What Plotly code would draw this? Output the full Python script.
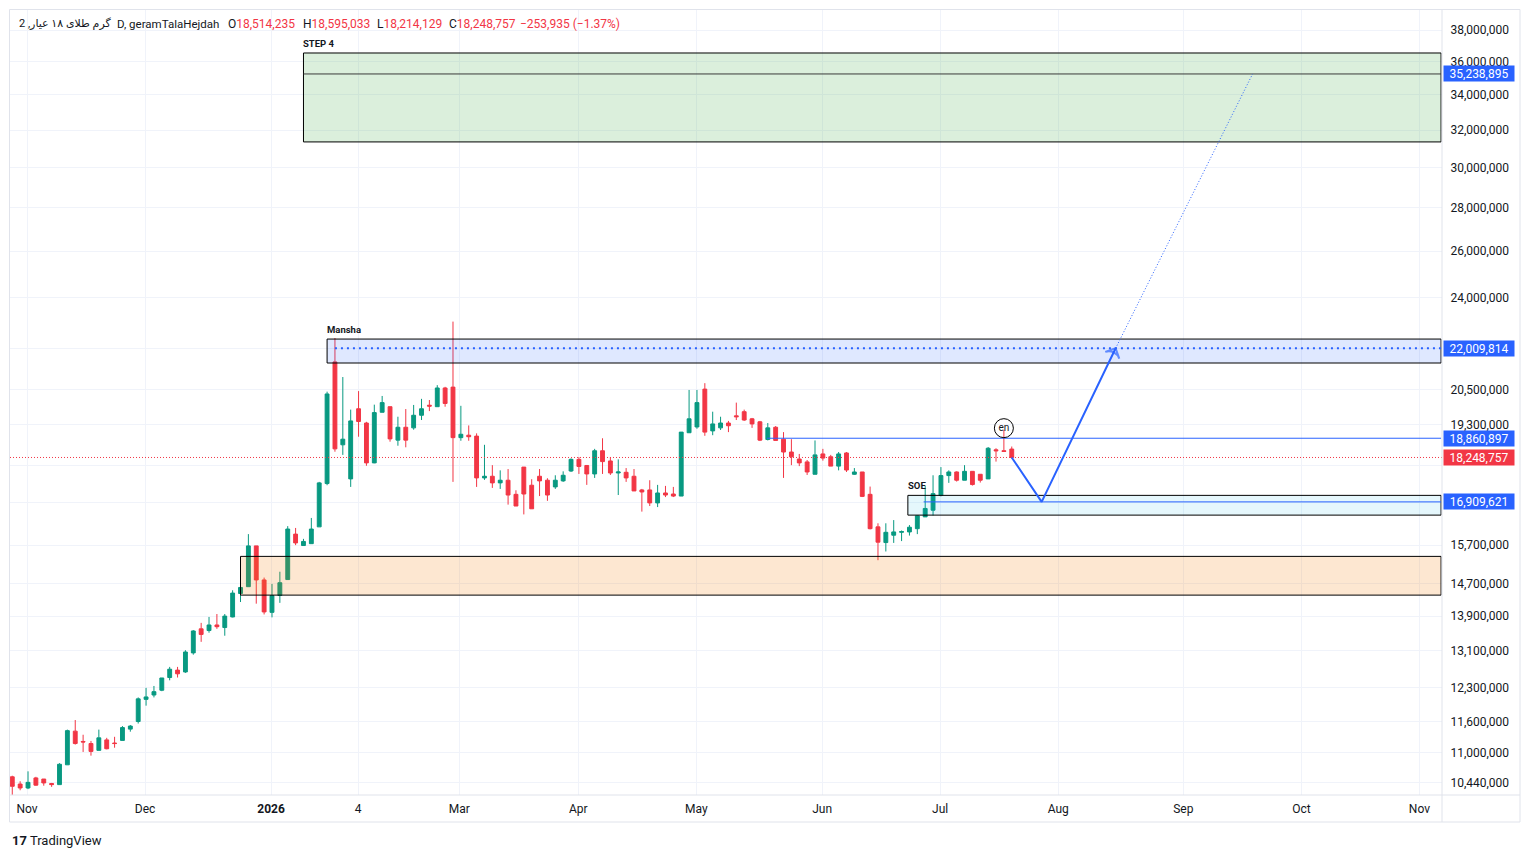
import numpy as np
import plotly.graph_objects as go

# ---------------- data (prices in millions of rial, 2D bars) ----------------
bar_index = list(range(128))
open_m = [10.55, 10.42, 10.35, 10.53, 10.51, 10.43, 10.41, 10.77, 11.41, 11.21,
          11.17, 11.04, 11.24, 11.18, 11.23, 11.45, 11.60, 12.05, 12.14, 12.24,
          12.51, 12.67, 12.63, 13.05, 13.60, 13.56, 13.69, 13.63, 13.88, 14.45,
          14.62, 15.68, 14.79, 13.99, 14.40, 14.80, 16.00, 15.69, 15.74, 16.20,
          17.45, 21.50, 18.65, 17.59, 19.84, 19.36, 18.08, 19.72, 19.91, 18.80,
          19.22, 19.20, 19.62, 19.96, 19.91, 20.56, 20.59, 18.88, 18.96, 18.93,
          17.62, 17.67, 17.47, 17.55, 17.13, 17.95, 17.40, 17.67, 17.55, 17.35,
          17.53, 17.83, 18.19, 18.00, 17.74, 18.46, 18.14, 17.77, 17.79, 17.67,
          17.26, 17.26, 16.88, 17.17, 17.14, 17.08, 19.04, 19.23, 20.52, 19.10,
          19.20, 19.36, 19.60, 19.74, 19.50, 19.40, 18.82, 19.22, 18.83, 18.42,
          18.20, 18.11, 17.73, 18.36, 18.27, 17.98, 18.39, 17.73, 17.80, 17.13,
          16.20, 15.77, 15.97, 16.05, 16.06, 16.15, 16.48, 16.67, 17.10, 17.69,
          17.80, 17.55, 17.82, 17.73, 17.59, 18.49, 18.46, 18.514235]
high_m = [10.57, 10.47, 10.65, 10.55, 10.51, 10.44, 10.80, 11.44, 11.63, 11.34,
          11.22, 11.44, 11.28, 11.30, 11.51, 11.53, 12.09, 12.29, 12.33, 12.50,
          12.74, 12.74, 13.11, 13.57, 13.74, 13.88, 13.95, 13.95, 14.53, 14.74,
          16.00, 15.68, 14.85, 14.69, 15.00, 16.22, 16.17, 15.87, 16.45, 17.50,
          20.43, 22.40, 20.95, 19.81, 20.45, 19.40, 19.98, 20.28, 19.91, 19.57,
          19.83, 19.97, 20.18, 20.14, 20.66, 20.60, 23.04, 19.94, 19.28, 19.02,
          18.65, 18.01, 17.85, 17.89, 17.25, 17.95, 17.58, 17.89, 17.61, 17.70,
          17.82, 18.22, 18.26, 18.01, 18.52, 18.86, 18.26, 18.19, 17.92, 17.89,
          17.29, 17.55, 17.41, 17.38, 17.35, 19.06, 20.49, 20.49, 20.73, 19.74,
          19.57, 19.43, 20.05, 19.81, 19.53, 19.43, 19.36, 19.26, 19.06, 18.83,
          18.36, 18.17, 18.79, 18.52, 18.33, 18.42, 18.42, 17.92, 17.80, 17.36,
          16.30, 16.30, 16.39, 16.10, 16.25, 16.52, 17.38, 17.70, 17.95, 17.85,
          17.82, 18.01, 17.82, 17.73, 18.58, 18.54, 19.13, 18.595033]
low_m = [10.22, 10.31, 10.33, 10.39, 10.39, 10.37, 10.41, 10.77, 11.15, 11.01,
         10.94, 11.04, 11.06, 11.09, 11.23, 11.40, 11.56, 11.92, 12.09, 12.22,
         12.45, 12.51, 12.61, 13.01, 13.30, 13.51, 13.60, 13.44, 13.87, 14.24,
         14.62, 14.20, 13.94, 13.87, 14.22, 14.80, 15.70, 15.69, 15.74, 16.20,
         17.40, 18.43, 18.33, 17.35, 18.91, 17.99, 18.07, 19.72, 18.75, 18.62,
         18.57, 19.14, 19.46, 19.76, 19.91, 19.91, 17.50, 18.78, 18.78, 17.35,
         17.56, 17.32, 17.29, 16.83, 16.79, 16.55, 16.71, 17.08, 16.94, 17.29,
         17.50, 17.80, 17.74, 17.41, 17.62, 17.74, 17.71, 17.11, 17.50, 17.23,
         16.63, 16.79, 16.76, 17.05, 17.05, 17.08, 19.04, 19.17, 18.94, 18.96,
         19.13, 19.06, 19.46, 19.43, 19.20, 18.77, 18.79, 18.79, 17.62, 18.01,
         17.98, 17.71, 17.73, 18.15, 17.98, 17.85, 17.80, 17.71, 17.05, 16.13,
         15.30, 15.53, 15.76, 15.81, 15.96, 16.00, 16.48, 16.52, 17.07, 17.47,
         17.51, 17.55, 17.39, 17.48, 17.59, 18.12, 18.44, 18.214129]
close_m = [10.38, 10.35, 10.45, 10.40, 10.44, 10.41, 10.78, 11.42, 11.17, 11.20,
           11.02, 11.28, 11.07, 11.17, 11.48, 11.51, 12.06, 12.10, 12.21, 12.50,
           12.69, 12.59, 13.07, 13.55, 13.47, 13.69, 13.65, 13.90, 14.46, 14.60,
           15.68, 14.79, 14.00, 14.40, 14.72, 16.14, 15.76, 15.80, 16.14, 17.47,
           20.35, 18.52, 18.83, 19.43, 19.41, 18.08, 19.71, 20.05, 18.84, 19.22,
           18.80, 19.62, 19.84, 19.93, 20.56, 20.02, 18.88, 18.99, 18.91, 17.62,
           17.67, 17.47, 17.55, 17.11, 16.79, 17.14, 16.71, 17.53, 17.11, 17.55,
           17.70, 18.19, 17.97, 17.74, 18.46, 18.12, 17.77, 17.80, 17.62, 17.23,
           17.20, 16.88, 17.17, 17.11, 17.08, 19.06, 19.50, 20.05, 19.06, 19.33,
           19.36, 19.27, 19.57, 19.46, 19.33, 18.80, 19.20, 18.79, 18.42, 18.27,
           18.08, 17.80, 18.33, 18.23, 17.98, 18.36, 17.86, 17.80, 17.07, 16.15,
           15.78, 16.05, 16.06, 16.07, 16.19, 16.51, 16.72, 17.15, 17.69, 17.80,
           17.55, 17.82, 17.42, 17.55, 18.54, 18.46, 18.44, 18.248757]

x_tick_pos = [1.87, 16.87, 32.89, 43.95, 56.79, 71.92, 86.92, 102.9, 117.9, 132.9, 148.8, 163.8, 178.8]
x_tick_text = ["Nov", "Dec", "<b>2026</b>", "4", "Mar", "Apr", "May", "Jun", "Jul", "Aug", "Sep", "Oct", "Nov"]
y_tick_vals = [10_440_000, 11_000_000, 11_600_000, 12_300_000, 13_100_000, 13_900_000, 14_700_000,
               15_700_000, 16_900_000, 18_000_000, 19_300_000, 20_500_000, 22_000_000, 24_000_000,
               26_000_000, 28_000_000, 30_000_000, 32_000_000, 34_000_000, 36_000_000, 38_000_000]
# labels hidden behind the price tags in the reference
y_tick_hidden = [16_900_000, 18_000_000, 22_000_000]
y_tick_text = ["" if v in y_tick_hidden else f"{v:,}" for v in y_tick_vals]

# drawn levels / zones (bar index, price)
last_close = 18_248_757
step4_zone = (37, 31_360_000, 36_530_000)
step4_level = 35_238_895
mansha_zone = (40, 21_460_000, 22_360_000)
mansha_level = (41, 22_009_814)
resist_level = (95.9, 18_860_897)
soe_zone = (113.8, 16_530_000, 17_100_000)
soe_level = (115.8, 16_909_621)
demand_zone = (29, 14_410_000, 15_400_000)
path_bars = [127, 130.8, 140.2]
path_prices = [18_248_757, 16_909_621, 22_009_814]
ext_bars = [140.2, 157.6]
ext_prices = [22_009_814, 35_238_895]
note_bar, note_price = 126, 19_190_000

header_symbol = "گرم طلای ۱۸ عیار, 2"
header_source = "D, geramTalaHejdah"
header_ohlc = [("O", "18,514,235", 226), ("H", "18,595,033", 301), ("L", "18,214,129", 375),
               ("C", "18,248,757", 447)]
header_change = "−253,935 (−1.37%)"

# ---------------- figure ----------------
M = 1e6
opens = [v * M for v in open_m]
highs = [v * M for v in high_m]
lows = [v * M for v in low_m]
closes = [v * M for v in close_m]

W, H = 1530, 858
ML, MR, MT, MB = 10, 88, 10, 63
PW, PH = W - ML - MR, H - MT - MB
X_MIN, X_MAX = -0.29, 181.67
Y_RANGE = [7.009708, 7.594688]

GREEN, RED, BLUE = "#089981", "#f23645", "#2962ff"
TXT = "#131722"
FONT = "Roboto, DejaVu Sans, sans-serif"


def px_x(p):
    return (p - ML) / PW


def px_y(p):
    return (H - MB - p) / PH


fig = go.Figure()
x_end = X_MAX - 0.12


def zone(start, lo, hi, fill):
    fig.add_trace(go.Scatter(x=[start, x_end, x_end, start, start], y=[lo, lo, hi, hi, lo],
                             mode="lines", fill="toself", fillcolor=fill,
                             line=dict(color="#000000", width=1), hoverinfo="skip"))


zone(step4_zone[0], step4_zone[1], step4_zone[2], "rgba(76,175,80,0.2)")
zone(mansha_zone[0], mansha_zone[1], mansha_zone[2], "rgba(41,98,255,0.15)")
zone(soe_zone[0], soe_zone[1], soe_zone[2], "rgba(0,172,230,0.1)")
zone(demand_zone[0], demand_zone[1], demand_zone[2], "rgba(245,124,0,0.18)")

# levels
fig.add_trace(go.Scatter(x=[step4_zone[0], x_end], y=[step4_level] * 2, mode="lines",
                         line=dict(color="#3a3a3a", width=1), hoverinfo="skip"))
fig.add_trace(go.Scatter(x=[mansha_level[0], x_end], y=[mansha_level[1]] * 2, mode="lines",
                         line=dict(color=BLUE, width=2, dash="2px,4px"), hoverinfo="skip"))
fig.add_trace(go.Scatter(x=[resist_level[0], x_end], y=[resist_level[1]] * 2, mode="lines",
                         line=dict(color=BLUE, width=1), hoverinfo="skip"))
fig.add_trace(go.Scatter(x=[soe_level[0], x_end], y=[soe_level[1]] * 2, mode="lines",
                         line=dict(color=BLUE, width=1), hoverinfo="skip"))
fig.add_trace(go.Scatter(x=[X_MIN, X_MAX], y=[last_close] * 2, mode="lines",
                         line=dict(color=RED, width=1, dash="1px,2px"), hoverinfo="skip"))

# candles
fig.add_trace(go.Candlestick(
    x=bar_index, open=opens, high=highs, low=lows, close=closes,
    increasing=dict(line=dict(color=GREEN, width=1), fillcolor=GREEN),
    decreasing=dict(line=dict(color=RED, width=1), fillcolor=RED),
    whiskerwidth=0, hoverinfo="skip"))

# projection path
fig.add_trace(go.Scatter(x=ext_bars, y=ext_prices, mode="lines",
                         line=dict(color=BLUE, width=1, dash="1px,2px"), hoverinfo="skip"))
fig.add_trace(go.Scatter(x=path_bars, y=path_prices, mode="lines+markers",
                         line=dict(color=BLUE, width=2),
                         marker=dict(symbol=["circle", "circle", "arrow-wide-open"], size=[0, 0, 11],
                                     angleref="previous", color=BLUE,
                                     line=dict(color=BLUE, width=2)),
                         hoverinfo="skip"))

# note bubble "en"
fig.add_trace(go.Scatter(x=[note_bar], y=[note_price], mode="markers+text", text=["en"],
                         textposition="middle center",
                         textfont=dict(family=FONT, size=10, color=TXT),
                         marker=dict(symbol="circle-open", size=19, color="#000000",
                                     line=dict(color="#000000", width=1)),
                         hoverinfo="skip"))

ann = []
for txt, start, top in [("STEP 4", step4_zone[0], step4_zone[2]),
                        ("Mansha", mansha_zone[0], mansha_zone[2]),
                        ("SOE", soe_zone[0], soe_zone[2])]:
    ann.append(dict(x=start, y=np.log10(top), xref="x", yref="y", text=f"<b>{txt}</b>",
                    showarrow=False, xanchor="left", yanchor="bottom", yshift=2, xshift=-2,
                    font=dict(family=FONT, size=9.5, color=TXT)))

# price tags on the right axis
for val, col in [(step4_level, BLUE), (mansha_level[1], BLUE), (resist_level[1], BLUE),
                 (last_close, RED), (soe_level[1], BLUE)]:
    ann.append(dict(x=1, y=np.log10(val), xref="paper", yref="y", text=f"{val:,}",
                    showarrow=False, xanchor="left", yanchor="middle", xshift=1,
                    width=68, align="center", height=13,
                    bgcolor=col, borderpad=1, font=dict(family=FONT, size=12, color="#ffffff")))

# header
hy = px_y(24)
ann.append(dict(x=px_x(17), y=hy, xref="paper", yref="paper", showarrow=False,
                xanchor="left", yanchor="middle", text=header_symbol,
                font=dict(family=FONT, size=11, color=TXT)))
ann.append(dict(x=px_x(221), y=hy, xref="paper", yref="paper", showarrow=False,
                xanchor="right", yanchor="middle", text=header_source,
                font=dict(family=FONT, size=11.5, color=TXT)))
for lab, val, xp in header_ohlc:
    ann.append(dict(x=px_x(xp), y=hy, xref="paper", yref="paper", showarrow=False,
                    xanchor="left", yanchor="middle",
                    text=f"{lab}<span style='color:{RED}'>{val}</span>",
                    font=dict(family=FONT, size=12, color=TXT)))
ann.append(dict(x=px_x(518), y=hy, xref="paper", yref="paper", showarrow=False,
                xanchor="left", yanchor="middle", text=header_change,
                font=dict(family=FONT, size=12, color=RED)))
# TradingView watermark
ann.append(dict(x=px_x(10), y=px_y(840), xref="paper", yref="paper", showarrow=False,
                xanchor="left", yanchor="middle",
                text="<b>17</b> TradingView",
                font=dict(family=FONT, size=13, color=TXT)))

shapes = [
    dict(type="rect", xref="paper", yref="paper", x0=px_x(9.5), x1=px_x(1520), y0=px_y(822), y1=px_y(9.5),
         line=dict(color="#e0e3eb", width=1), fillcolor="rgba(0,0,0,0)", layer="above"),
    dict(type="line", xref="paper", yref="paper", x0=1, x1=1, y0=px_y(822), y1=px_y(9.5),
         line=dict(color="#e0e3eb", width=1)),
    dict(type="line", xref="paper", yref="paper", x0=px_x(9.5), x1=px_x(1520), y0=0, y1=0,
         line=dict(color="#e0e3eb", width=1)),
]

fig.update_layout(
    width=W, height=H, margin=dict(l=ML, r=MR, t=MT, b=MB),
    paper_bgcolor="#ffffff", plot_bgcolor="#ffffff",
    showlegend=False, hovermode=False, dragmode=False,
    annotations=ann, shapes=shapes,
    font=dict(family=FONT, size=12, color=TXT),
    xaxis=dict(range=[X_MIN, X_MAX], tickmode="array", tickvals=x_tick_pos, ticktext=x_tick_text,
               showgrid=True, gridcolor="#f0f3fa", gridwidth=1, zeroline=False, showline=False,
               rangeslider=dict(visible=False), ticks="outside", ticklen=3, tickcolor="rgba(0,0,0,0)",
               tickfont=dict(family=FONT, size=12, color=TXT), fixedrange=True),
    yaxis=dict(type="log", range=Y_RANGE, side="right", tickmode="array", tickvals=y_tick_vals,
               ticktext=y_tick_text, showgrid=True, gridcolor="#f0f3fa", gridwidth=1,
               zeroline=False, showline=False, ticks="outside", ticklen=5,
               tickcolor="rgba(0,0,0,0)", tickfont=dict(family=FONT, size=12, color=TXT),
               fixedrange=True),
)

fig.write_html("out.html")
